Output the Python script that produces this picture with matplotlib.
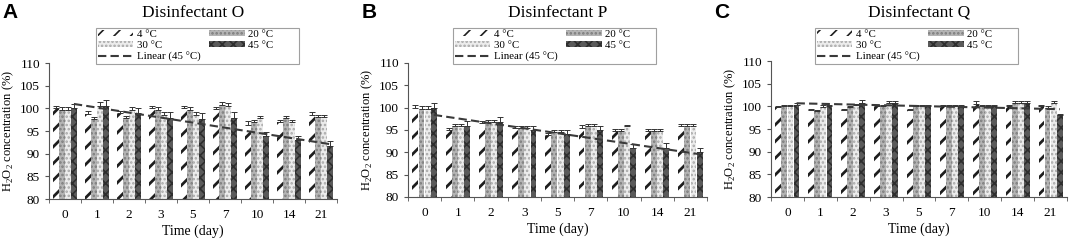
import matplotlib
matplotlib.use("Agg")
import matplotlib.pyplot as plt
import numpy as np

plt.rcParams['font.family'] = 'Liberation Serif'
plt.rcParams['mathtext.fontset'] = 'custom'
plt.rcParams['mathtext.rm'] = 'Liberation Serif'
plt.rcParams['hatch.linewidth'] = 1.2

days = ['0', '1', '2', '3', '5', '7', '10', '14', '21']
temps = ['4 \u00b0C', '20 \u00b0C', '30 \u00b0C', '45 \u00b0C']
titles = ['Disinfectant O', 'Disinfectant P', 'Disinfectant Q']
letters = ['A', 'B', 'C']

# panel A (disinfectant O)
o_4 = [100.0, 98.8, 99.0, 100.0, 100.0, 99.9, 96.4, 96.9, 98.6]
o_20 = [99.7, 97.7, 97.8, 99.7, 99.7, 100.8, 97.0, 97.9, 98.0]
o_30 = [99.7, 100.5, 99.7, 98.6, 98.6, 100.6, 97.9, 96.9, 98.0]
o_45 = [100.0, 100.6, 99.0, 97.9, 97.7, 97.9, 93.8, 93.1, 91.6]
o_err = [[0.5, 0.6, 0.5, 0.5, 0.5, 0.5, 0.8, 0.5, 0.6],
         [0.5, 0.4, 0.6, 0.5, 0.5, 0.6, 0.5, 0.5, 0.5],
         [0.6, 0.9, 0.6, 0.5, 0.5, 0.6, 0.5, 0.6, 0.5],
         [1.0, 1.3, 1.0, 1.2, 1.2, 1.2, 1.0, 0.9, 1.2]]

# panel B (disinfectant P)
p_4 = [100.0, 95.0, 96.5, 95.5, 93.8, 95.5, 94.7, 94.7, 95.8]
p_20 = [99.8, 95.8, 96.8, 95.5, 94.5, 95.8, 94.8, 94.7, 95.8]
p_30 = [99.8, 95.8, 96.8, 95.5, 94.5, 95.8, 95.8, 94.7, 95.8]
p_45 = [100.0, 95.8, 96.8, 95.0, 94.0, 95.0, 91.0, 91.0, 90.0]
p_err = [[0.5, 0.5, 0.6, 0.5, 0.6, 0.6, 0.5, 0.5, 0.5],
         [0.5, 0.5, 0.5, 0.5, 0.5, 0.5, 0.5, 0.5, 0.5],
         [0.5, 0.5, 0.5, 0.5, 0.5, 0.5, 0.4, 0.5, 0.5],
         [1.0, 1.2, 1.2, 1.0, 1.0, 1.0, 0.9, 1.0, 1.0]]

# panel C (disinfectant Q)
q_4 = [99.8, 99.2, 99.2, 100.0, 99.3, 100.0, 100.6, 100.0, 100.0]
q_20 = [100.0, 99.0, 99.8, 100.0, 100.0, 100.0, 100.0, 100.7, 99.7]
q_30 = [100.0, 99.8, 100.2, 100.7, 100.0, 100.0, 100.0, 100.7, 100.7]
q_45 = [100.4, 100.0, 100.8, 100.7, 100.0, 100.0, 100.0, 100.7, 98.0]
q_err = [[0.3, 0.2, 0.2, 0.2, 0.2, 0.2, 0.5, 0.3, 0.3],
         [0.2, 0.2, 0.3, 0.3, 0.2, 0.2, 0.2, 0.5, 0.3],
         [0.3, 0.4, 0.4, 0.5, 0.2, 0.2, 0.2, 0.5, 0.5],
         [0.3, 0.3, 0.6, 0.5, 0.2, 0.2, 0.2, 0.5, 0.2]]

panels = [[o_4, o_20, o_30, o_45], [p_4, p_20, p_30, p_45], [q_4, q_20, q_30, q_45]]
errs = [o_err, p_err, q_err]

# bar styles per temperature
styles = [dict(facecolor='white', edgecolor='#1e1e1e', hatch='//'),
          dict(facecolor='#b4b4b4', edgecolor='#7c7c7c', hatch='....'),
          dict(facecolor='#ececec', edgecolor='#a8a8a8', hatch='....'),
          dict(facecolor='#5a5a5a', edgecolor='#2e2e2e', hatch='xxx')]
hatch_lw = [2.0, 1.2, 1.2, 1.2]

# axes rectangles in pixels (left, right, top, bottom)
ax_px = [(49, 337, 63, 199), (408, 707, 63, 197), (771, 1067, 61, 197)]
leg_px = [(96, 298, 28, 63), (453, 647, 28, 62), (815, 1008, 28, 63)]
W, H = 1072, 240

fig = plt.figure(figsize=(W / 100, H / 100), dpi=100)
x = np.arange(len(days))
bw = 0.185
offs = [-1.5 * bw, -0.5 * bw, 0.5 * bw, 1.5 * bw]

for i in range(3):
    l, r, t, b = ax_px[i]
    ax = fig.add_axes([l / W, 1 - b / H, (r - l) / W, (b - t) / H])
    handles = []
    for j in range(4):
        h = ax.bar(x + offs[j], np.array(panels[i][j]) - 80, bw * 0.96, bottom=80,
                   linewidth=0, **styles[j], label=temps[j])
        for p in h.patches:
            if hasattr(p, 'set_hatch_linewidth'):
                p.set_hatch_linewidth(hatch_lw[j])
        ax.errorbar(x + offs[j], panels[i][j], yerr=[np.zeros(9), errs[i][j]],
                    fmt='none', ecolor='#333333', elinewidth=0.7, capsize=2, capthick=0.7)
        handles.append(h)
    fit = np.polyfit(x, panels[i][3], 1)
    ln, = ax.plot(x + offs[3], np.polyval(fit, x + offs[3]), '--', color='#3a3a3a',
                  lw=1.5, dashes=(4, 2), label='Linear (45 \u00b0C)')
    ax.set_xlim(-0.5, 8.5)
    ax.set_ylim(80, 110)
    ax.set_yticks(range(80, 111, 5))
    ax.set_xticks(x)
    ax.set_xticklabels(days)
    ax.set_xticks(np.arange(-0.5, 9, 1), minor=True)
    ax.tick_params(axis='x', which='major', length=0, labelsize=9.5, pad=7)
    ax.tick_params(axis='x', which='minor', length=3, direction='out', color='#555555')
    ax.tick_params(axis='y', labelsize=9.5, length=3, direction='out', color='#555555')
    for s in ['top', 'right']:
        ax.spines[s].set_visible(False)
    for s in ['left', 'bottom']:
        ax.spines[s].set_color('#555555')
    ax.set_xlabel('Time (day)', fontsize=10, labelpad=3)
    ax.set_ylabel('H$_2$O$_2$ concentration (%)', fontsize=9, labelpad=3)

    # legend: two columns, right column padded so the box is wider
    lx0, lx1, ly0, ly1 = leg_px[i]
    pad = '         '
    leg = ax.legend([handles[0], handles[2], ln, handles[1], handles[3]],
                    [temps[0], temps[2], 'Linear (45 \u00b0C)', temps[1] + pad, temps[3] + pad],
                    ncol=2, loc='upper left',
                    bbox_to_anchor=(lx0 / W, 1 - ly0 / H),
                    bbox_transform=fig.transFigure, fontsize=7.8, frameon=True,
                    fancybox=False, edgecolor='#888888', handlelength=3.3,
                    handleheight=0.55, labelspacing=0.2, borderpad=0.15,
                    handletextpad=0.3, columnspacing=0.8, borderaxespad=0)
    leg.get_frame().set_linewidth(0.8)

    fig.text((l + r) / 2 / W, 1 - 13 / H, titles[i], ha='center', va='center', fontsize=12.5)
    fig.text([2, 362, 714][i] / W, 1 - 13 / H, letters[i], ha='left', va='center',
             fontsize=15, fontweight='bold', family='Liberation Sans')

fig.savefig('out.png', dpi=100)
